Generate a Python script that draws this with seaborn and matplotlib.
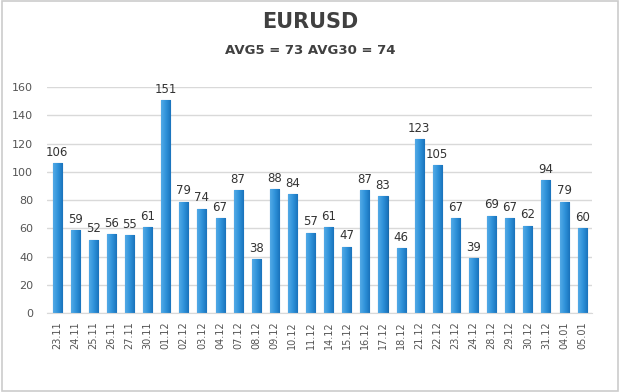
import numpy as np
import pandas as pd
import seaborn as sns
import matplotlib.pyplot as plt
from matplotlib.patches import Rectangle
from matplotlib.colors import LinearSegmentedColormap

dates = ['23.11', '24.11', '25.11', '26.11', '27.11', '30.11', '01.12', '02.12', '03.12', '04.12',
         '07.12', '08.12', '09.12', '10.12', '11.12', '14.12', '15.12', '16.12', '17.12', '18.12',
         '21.12', '22.12', '23.12', '24.12', '28.12', '29.12', '30.12', '31.12', '04.01', '05.01']
values = [106, 59, 52, 56, 55, 61, 151, 79, 74, 67,
          87, 38, 88, 84, 57, 61, 47, 87, 83, 46,
          123, 105, 67, 39, 69, 67, 62, 94, 79, 60]
title = 'EURUSD'
subtitle = 'AVG5 = 73 AVG30 = 74'

df = pd.DataFrame({'date': dates, 'value': values})

sns.set_style('white')
fig = plt.figure(figsize=(6.2, 3.92), dpi=100)
ax = fig.add_axes([0.076, 0.2015, 0.879, 0.576])

sns.barplot(data=df, x='date', y='value', color='#2B8DD6', width=0.5,
            edgecolor='#1A6BAA', linewidth=0.8, saturation=1, ax=ax)

# light-to-dark shading across each bar, like the original 3D columns
cmap = LinearSegmentedColormap.from_list('bar', ['#52A9E6', '#2F92DA', '#1A74BD'])
grad = np.linspace(0, 1, 20).reshape(1, -1)
for p in ax.patches:
    x0, w, h = p.get_x(), p.get_width(), p.get_height()
    im = ax.imshow(grad, cmap=cmap, aspect='auto', extent=(x0, x0 + w, 0, h), zorder=p.get_zorder() + 0.1)
    im.set_clip_path(p)

for i, v in enumerate(values):
    ax.text(i, v + 3, str(v), ha='center', va='bottom', fontsize=8.5, color='#333333', clip_on=False)

ax.set_ylim(0, 160)
ax.set_xlim(-0.55, len(values) - 0.45)
ax.set_yticks(range(0, 161, 20))
ax.yaxis.grid(True, color='#D9D9D9', linewidth=1)
ax.set_axisbelow(True)
for s in ['top', 'right', 'left']:
    ax.spines[s].set_visible(False)
ax.spines['bottom'].set_color('#D9D9D9')
ax.set_xlabel('')
ax.set_ylabel('')
ax.tick_params(axis='y', labelsize=8, colors='#555555', length=0, pad=10)
ax.tick_params(axis='x', labelsize=7, colors='#555555', length=0, rotation=90, pad=6)

fig.text(0.5, 0.943, title, ha='center', va='center', fontsize=15, fontweight='bold', color='#404040')
fig.text(0.5, 0.872, subtitle, ha='center', va='center', fontsize=9.5, fontweight='bold', color='#404040')
fig.patches.append(Rectangle((0.003, 0.003), 0.994, 0.994, transform=fig.transFigure,
                             fill=False, edgecolor='#CCCCCC', linewidth=1.2))

fig.savefig('out.png', dpi=100)
